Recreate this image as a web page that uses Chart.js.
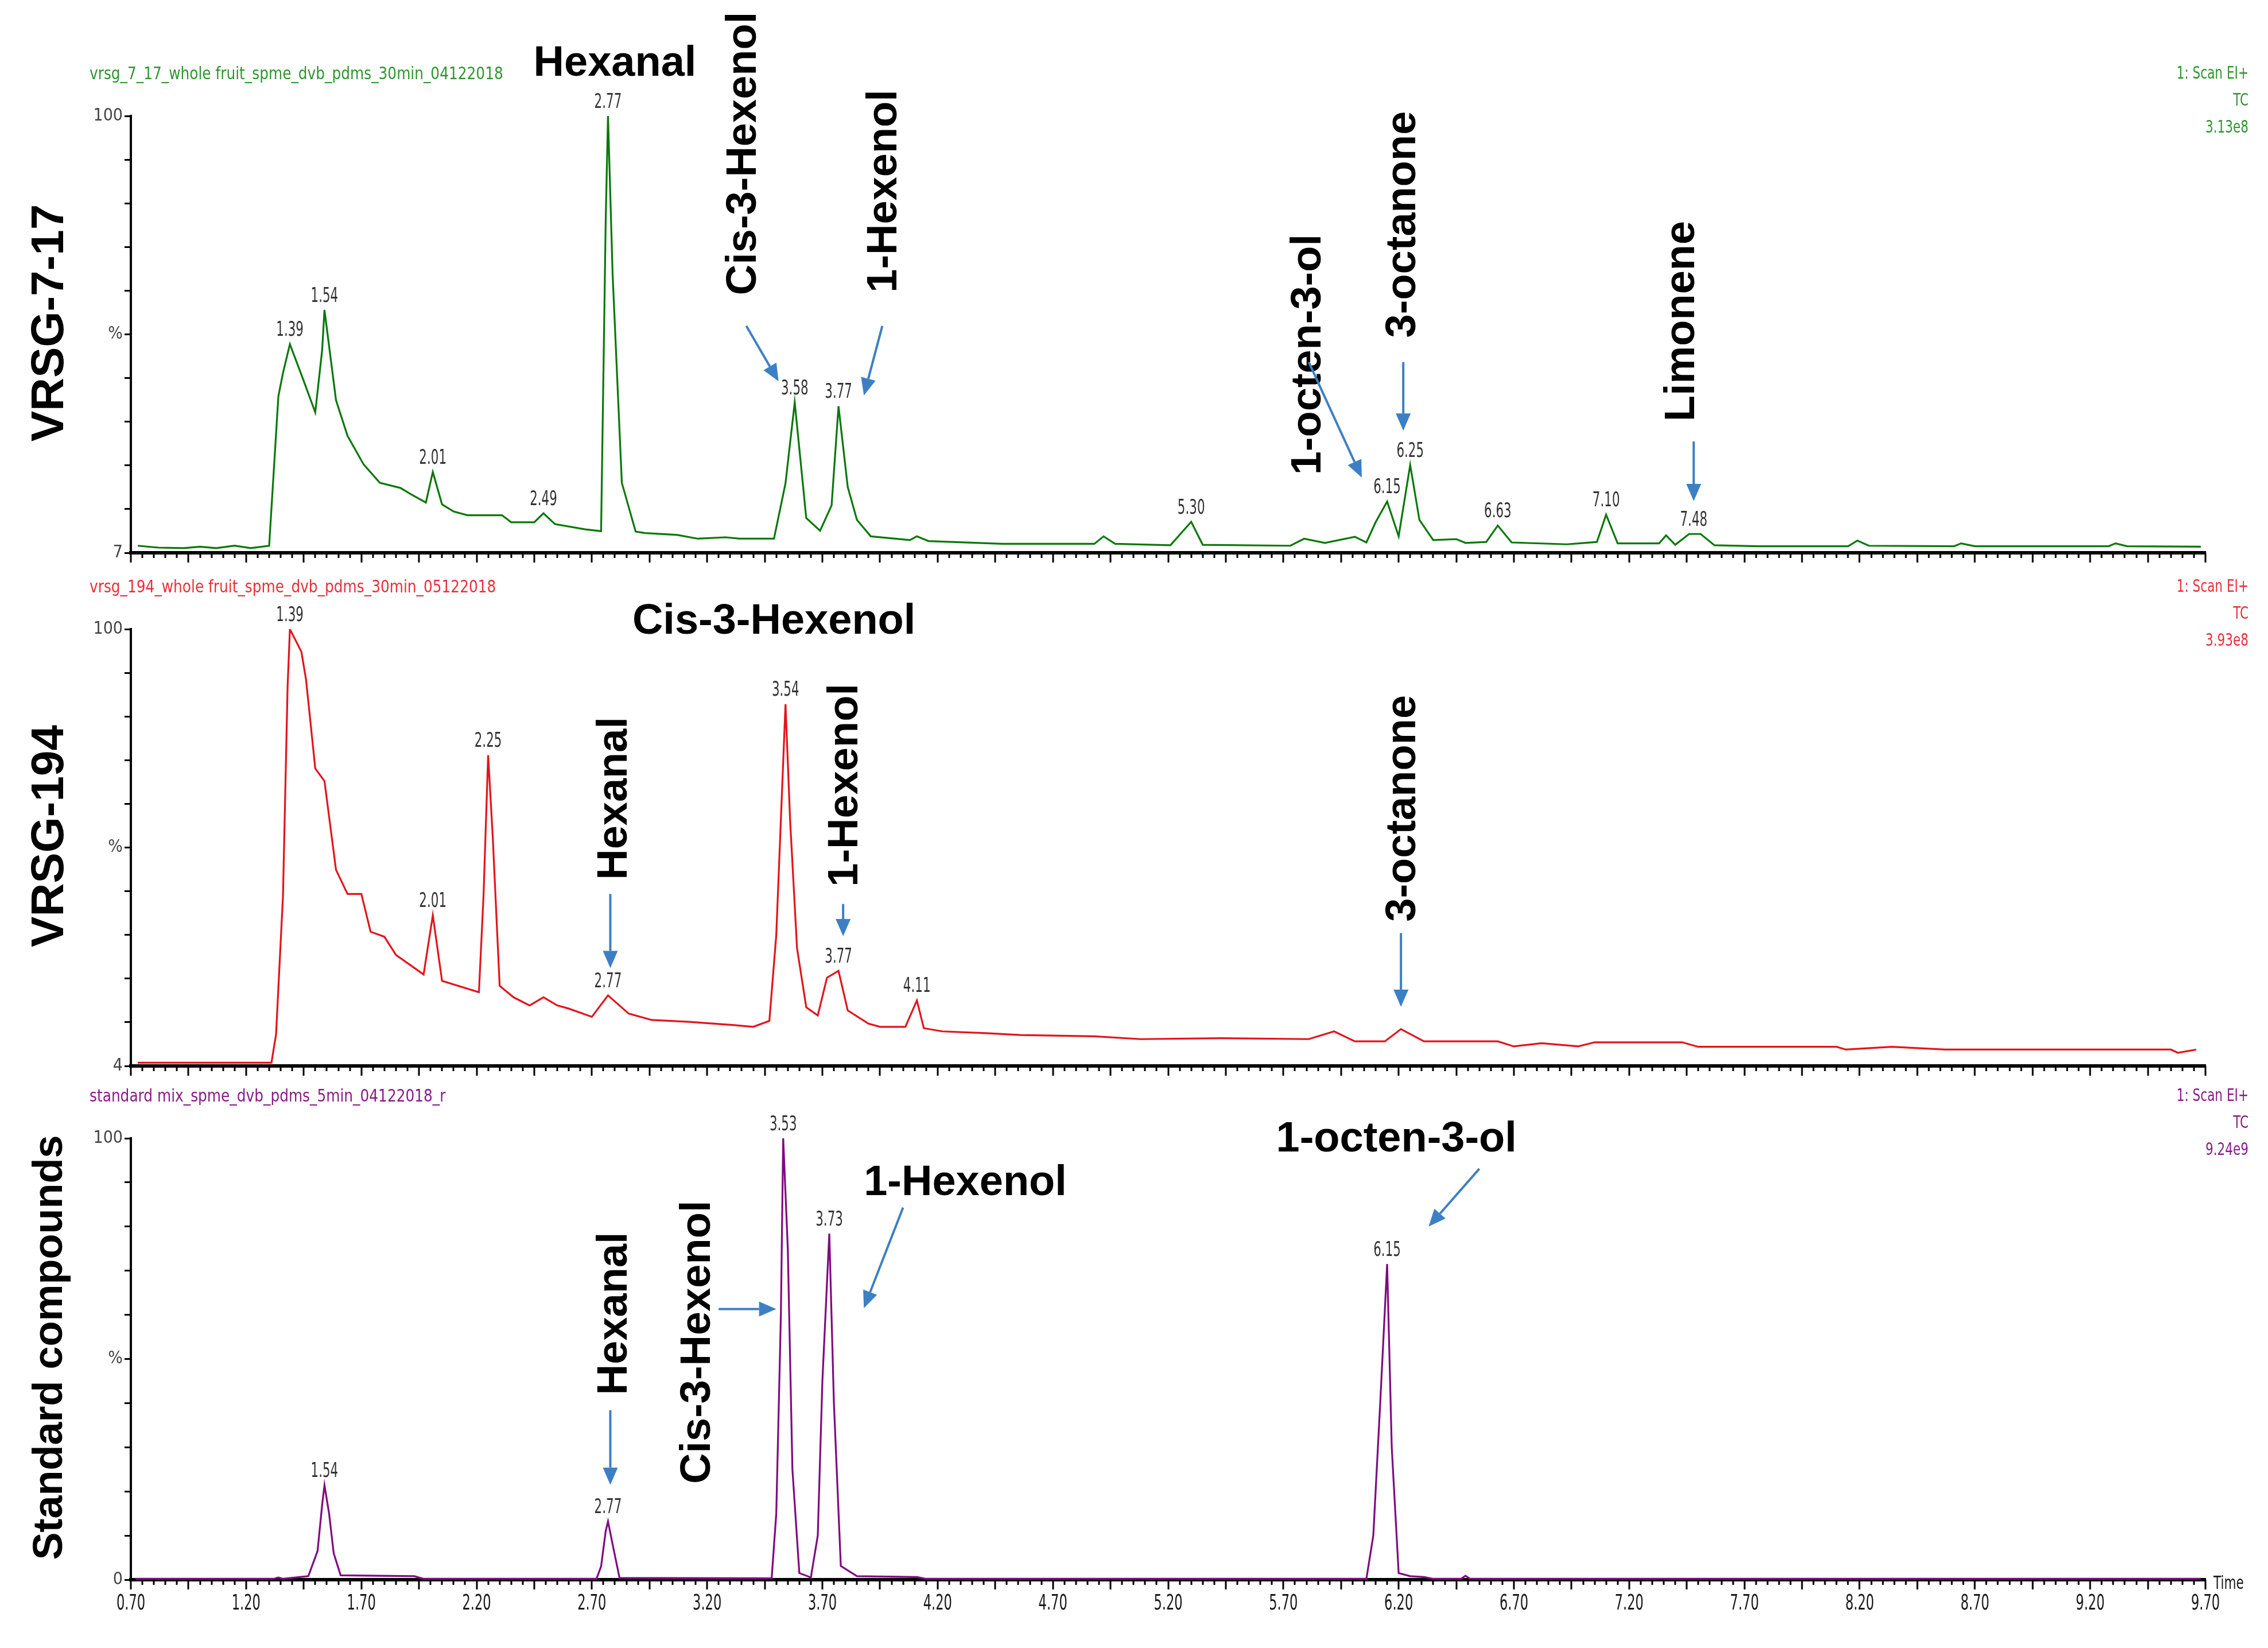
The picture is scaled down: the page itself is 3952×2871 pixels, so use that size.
<!DOCTYPE html>
<html>
<head>
<meta charset="utf-8">
<script src="https://cdn.jsdelivr.net/npm/chart.js@4.4.1/dist/chart.umd.min.js"></script>
<style>
  html, body { margin: 0; padding: 0; background: #fff; }
  #wrap { position: relative; width: 3952px; height: 2871px; overflow: hidden; }
  canvas { position: absolute; left: 0; }
</style>
</head>
<body>
<div id="wrap">
  <canvas id="c1" width="3952" height="1000" style="top:0px"></canvas>
  <canvas id="c2" width="3952" height="900" style="top:1000px"></canvas>
  <canvas id="c3" width="3952" height="1021" style="top:1850px"></canvas>
</div>
<script>
// retention time (min) and relative intensity (%)
const timesA = [0.73, 0.82, 0.93, 1.00, 1.07, 1.15, 1.22, 1.30, 1.34, 1.36, 1.39, 1.44, 1.50, 1.53, 1.54, 1.59, 1.64, 1.71, 1.78, 1.87,
  1.91, 1.98, 2.01, 2.05, 2.10, 2.16, 2.31, 2.35, 2.45, 2.49, 2.54, 2.67, 2.74, 2.76, 2.77, 2.79, 2.83, 2.89, 2.93, 3.07,
  3.16, 3.28, 3.34, 3.49, 3.54, 3.58, 3.63, 3.69, 3.74, 3.77, 3.81, 3.85, 3.91, 4.08, 4.11, 4.16, 4.48, 4.88, 4.92, 4.97,
  5.21, 5.30, 5.35, 5.73, 5.79, 5.88, 6.01, 6.06, 6.10, 6.15, 6.20, 6.25, 6.29, 6.35, 6.45, 6.49, 6.58, 6.63, 6.69, 6.93,
  7.06, 7.10, 7.15, 7.33, 7.36, 7.40, 7.46, 7.51, 7.57, 7.76, 8.15, 8.19, 8.24, 8.61, 8.64, 8.70, 9.28, 9.31, 9.36, 9.68];
const valuesA = [8.5, 8.1, 8.0, 8.3, 8.0, 8.5, 8.0, 8.5, 40.3, 45.3, 51.4, 44.9, 36.9, 50.2, 58.7, 39.5, 31.9, 25.8, 21.9, 20.8,
  19.6, 17.7, 24.2, 17.3, 15.8, 15.0, 15.0, 13.5, 13.5, 15.4, 13.1, 12.0, 11.6, 77.8, 100, 66.3, 21.9, 11.5, 11.2, 10.8,
  10.0, 10.3, 10.0, 10.0, 21.8, 39.0, 14.4, 11.7, 17.1, 38.2, 21.0, 14.0, 10.5, 9.7, 10.5, 9.5, 8.9, 8.9, 10.5, 8.9,
  8.6, 13.6, 8.7, 8.5, 10.0, 9.1, 10.4, 9.2, 13.5, 17.9, 10.5, 25.7, 14.0, 9.7, 9.9, 9.1, 9.3, 12.8, 9.2, 8.8,
  9.3, 15.1, 9.0, 9.0, 10.7, 8.7, 11.0, 11.0, 8.6, 8.4, 8.4, 9.6, 8.5, 8.4, 9.0, 8.4, 8.4, 9.0, 8.4, 8.3];

const timesB = [0.73, 1.00, 1.31, 1.33, 1.36, 1.38, 1.39, 1.44, 1.46, 1.50, 1.54, 1.59, 1.64, 1.70, 1.74, 1.80, 1.85, 1.97, 2.01, 2.05,
  2.21, 2.23, 2.25, 2.27, 2.30, 2.36, 2.43, 2.49, 2.55, 2.60, 2.70, 2.77, 2.86, 2.96, 3.12, 3.31, 3.40, 3.47, 3.50, 3.54,
  3.56, 3.59, 3.63, 3.68, 3.72, 3.77, 3.81, 3.90, 3.95, 4.06, 4.11, 4.14, 4.22, 4.41, 4.56, 4.88, 5.08, 5.43, 5.81, 5.92,
  6.01, 6.14, 6.21, 6.31, 6.63, 6.70, 6.82, 6.98, 7.05, 7.43, 7.50, 8.10, 8.14, 8.34, 8.57, 9.55, 9.58, 9.66];
const valuesB = [4.7, 4.7, 4.7, 11.0, 41.4, 87.4, 100, 95.0, 88.9, 69.4, 66.6, 47.1, 41.8, 41.8, 33.5, 32.4, 28.4, 24.1, 37.1, 22.7,
  20.2, 41.4, 72.3, 54.3, 21.6, 19.1, 17.3, 19.1, 17.3, 16.6, 14.8, 19.5, 15.5, 14.1, 13.7, 13.0, 12.6, 13.9, 32.8, 83.5,
  58.0, 29.9, 16.9, 15.1, 23.4, 24.9, 16.2, 13.3, 12.6, 12.6, 18.4, 12.3, 11.6, 11.2, 10.8, 10.5, 9.9, 10.1, 9.9, 11.6,
  9.4, 9.4, 12.1, 9.4, 9.4, 8.3, 9.0, 8.3, 9.2, 9.2, 8.2, 8.2, 7.6, 8.2, 7.6, 7.6, 6.9, 7.6];

const timesC = [0.72, 1.32, 1.34, 1.36, 1.47, 1.51, 1.53, 1.54, 1.56, 1.58, 1.61, 1.93, 1.97, 2.72, 2.74, 2.76, 2.77, 2.79, 2.82, 3.48,
  3.50, 3.52, 3.53, 3.55, 3.57, 3.60, 3.65, 3.68, 3.70, 3.73, 3.75, 3.78, 3.85, 4.11, 4.15, 6.06, 6.09, 6.12, 6.15, 6.17,
  6.20, 6.25, 6.31, 6.35, 6.47, 6.49, 6.51, 9.68];
const valuesC = [0.2, 0.2, 0.5, 0.2, 0.8, 6.5, 17.0, 21.4, 15.0, 6.0, 1.0, 0.8, 0.2, 0.2, 3.0, 11.0, 13.2, 8.0, 0.4, 0.3,
  15.0, 60.0, 100, 75.0, 25.0, 1.5, 0.5, 10.0, 45.0, 78.4, 40.0, 3.1, 0.8, 0.6, 0.2, 0.2, 10.0, 40.0, 71.5, 30.0,
  1.5, 0.8, 0.6, 0.2, 0.2, 0.9, 0.2, 0.2];

// labelled retention times of the peaks
const peaksA = [1.39, 1.54, 2.01, 2.49, 2.77, 3.58, 3.77, 5.30, 6.15, 6.25, 6.63, 7.10, 7.48];
const peaksB = [1.39, 2.01, 2.25, 2.77, 3.54, 3.77, 4.11];
const peaksC = [1.54, 2.77, 3.53, 3.73, 6.15];

// y axis ranges (MassLynx offset at bottom)
const yMinA = 7, yMinB = 4, yMinC = 0;

const NARROW = '"Liberation Sans Narrow", "DejaVu Sans Condensed", "Arial Narrow", sans-serif';
const BOLD = '"Liberation Sans", Arial, sans-serif';
const ARROW = '#3d7fc4';

Chart.defaults.font.family = NARROW;

// squeeze the small instrument-style text sideways
function narrowText(ctx, text, px, py, sx) {
  ctx.save();
  ctx.translate(px, py);
  ctx.scale(sx, 1);
  ctx.fillText(text, 0, 0);
  ctx.restore();
}

const extras = {
  id: 'extras',
  afterDraw(chart, args, o) {
    const { ctx, chartArea: a, scales: { x, y } } = chart;
    ctx.save();

    // minor / medium ticks under the time axis
    ctx.strokeStyle = '#000';
    ctx.lineWidth = 3;
    for (let k = 0; k <= 180; k++) {
      const px = Math.round(x.getPixelForValue(0.7 + k * 0.05));
      const len = k % 5 === 0 ? 17 : 9;
      ctx.beginPath();
      ctx.moveTo(px, a.bottom);
      ctx.lineTo(px, a.bottom + len);
      ctx.stroke();
    }

    // time labels
    if (o.timeLabel) {
      ctx.fillStyle = '#1a1a1a';
      ctx.font = '38px ' + NARROW;
      ctx.textAlign = 'center';
      ctx.textBaseline = 'middle';
      x.ticks.forEach(tk => narrowText(ctx, tk.value.toFixed(2), x.getPixelForValue(tk.value), a.bottom + 42, 0.66));
      ctx.textAlign = 'left';
      ctx.font = '32px ' + NARROW;
      narrowText(ctx, 'Time', a.right + 14, a.bottom + 8, 0.75);
    }

    // peak retention-time labels
    const pts = chart.data.datasets[0].data;
    ctx.fillStyle = '#333';
    ctx.font = '35px ' + NARROW;
    ctx.textAlign = 'center';
    ctx.textBaseline = 'bottom';
    o.peaks.forEach(t => {
      let top = -Infinity;
      pts.forEach(p => { if (Math.abs(p.x - t) <= 0.031 && p.y > top) top = p.y; });
      narrowText(ctx, t.toFixed(2), x.getPixelForValue(t), y.getPixelForValue(top) - 6, 0.68);
    });

    // headers
    ctx.font = '30px ' + NARROW;
    ctx.textBaseline = 'middle';
    ctx.fillStyle = o.headColor;
    ctx.textAlign = 'left';
    narrowText(ctx, o.title, a.left - 72, a.top - 72, 0.92);
    ctx.textAlign = 'right';
    o.info.forEach((s, i) => narrowText(ctx, s, a.right + 75, a.top - 73 + i * 47, 0.8));

    // sample name at the left
    ctx.fillStyle = '#000';
    ctx.font = 'bold ' + o.rowSize + 'px ' + BOLD;
    ctx.textAlign = 'center';
    ctx.translate(a.left - 140, (a.top + a.bottom) / 2 - 20);
    ctx.rotate(-Math.PI / 2);
    ctx.fillText(o.row, 0, 0);
    ctx.setTransform(1, 0, 0, 1, 0, 0);

    // compound names and arrows
    o.notes.forEach(n => {
      const px = x.getPixelForValue(n.t), py = y.getPixelForValue(n.v);
      ctx.fillStyle = '#000';
      ctx.font = 'bold 74px ' + BOLD;
      ctx.textAlign = 'center';
      ctx.textBaseline = 'middle';
      ctx.save();
      ctx.translate(px, py);
      if (n.rot) ctx.rotate(-Math.PI / 2);
      ctx.fillText(n.text, 0, 0);
      ctx.restore();
      if (n.arrow) {
        const [t1, v1, t2, v2] = n.arrow;
        const x1 = x.getPixelForValue(t1), y1 = y.getPixelForValue(v1);
        const x2 = x.getPixelForValue(t2), y2 = y.getPixelForValue(v2);
        const ang = Math.atan2(y2 - y1, x2 - x1);
        const hl = 30, hw = 13;
        ctx.strokeStyle = ARROW;
        ctx.fillStyle = ARROW;
        ctx.lineWidth = 4;
        ctx.beginPath();
        ctx.moveTo(x1, y1);
        ctx.lineTo(x2 - hl * Math.cos(ang), y2 - hl * Math.sin(ang));
        ctx.stroke();
        ctx.beginPath();
        ctx.moveTo(x2, y2);
        ctx.lineTo(x2 - hl * Math.cos(ang) - hw * Math.sin(ang), y2 - hl * Math.sin(ang) + hw * Math.cos(ang));
        ctx.lineTo(x2 - hl * Math.cos(ang) + hw * Math.sin(ang), y2 - hl * Math.sin(ang) - hw * Math.cos(ang));
        ctx.closePath();
        ctx.fill();
      }
    });
    ctx.restore();
  }
};

function makeChart(id, times, values, color, yMin, padTop, xHeight, cfg) {
  const yMid = yMin + (100 - yMin) / 2;
  return new Chart(document.getElementById(id), {
    type: 'line',
    data: {
      datasets: [{
        data: times.map((t, i) => ({ x: t, y: values[i] })),
        borderColor: color,
        borderWidth: 3.2,
        pointRadius: 0,
        tension: 0,
        fill: false
      }]
    },
    options: {
      responsive: false,
      animation: false,
      devicePixelRatio: 1,
      layout: { padding: { top: padTop, right: 109, left: 0, bottom: 0 } },
      plugins: { legend: { display: false }, tooltip: { enabled: false }, extras: cfg },
      scales: {
        x: {
          type: 'linear',
          min: 0.7,
          max: 9.7,
          afterFit: s => { s.height = xHeight; },
          grid: { display: false },
          border: { display: true, color: '#000', width: 6 },
          ticks: { display: false, stepSize: 0.5, autoSkip: false }
        },
        y: {
          min: yMin,
          max: 100,
          afterFit: s => { s.width = 228; },
          afterBuildTicks: s => {
            s.ticks = [];
            for (let k = 0; k <= 10; k++) s.ticks.push({ value: yMin + k * (100 - yMin) / 10 });
          },
          grid: { display: true, drawOnChartArea: false, drawTicks: true, tickLength: 11, color: '#000', lineWidth: 3 },
          border: { display: true, color: '#000', width: 4 },
          ticks: {
            autoSkip: false,
            padding: 3,
            color: '#444',
            font: { size: 30, family: NARROW },
            callback: v => {
              if (Math.abs(v - 100) < 1e-6) return '100';
              if (Math.abs(v - yMin) < 1e-6) return String(yMin);
              if (Math.abs(v - yMid) < 1e-6) return '%';
              return '';
            }
          }
        }
      }
    },
    plugins: [extras]
  });
}

makeChart('c1', timesA, valuesA, '#0a780a', yMinA, 202, 37, {
  peaks: peaksA,
  headColor: '#2f962f',
  title: 'vrsg_7_17_whole fruit_spme_dvb_pdms_30min_04122018',
  info: ['1: Scan EI+', 'TC', '3.13e8'],
  row: 'VRSG-7-17',
  rowSize: 80,
  notes: [
    { text: 'Hexanal', t: 2.80, v: 111 },
    { text: 'Cis-3-Hexenol', t: 3.36, v: 92, rot: true, arrow: [3.37, 55.3, 3.51, 43.5] },
    { text: '1-Hexenol', t: 3.97, v: 84, rot: true, arrow: [3.96, 55.3, 3.88, 40.5] },
    { text: '1-octen-3-ol', t: 5.81, v: 49.2, rot: true, arrow: [5.81, 47.6, 6.04, 23.0] },
    { text: '3-octanone', t: 6.22, v: 76.9, rot: true, arrow: [6.22, 47.6, 6.22, 33.0] },
    { text: 'Limonene', t: 7.43, v: 56.3, rot: true, arrow: [7.48, 30.7, 7.48, 18.0] }
  ]
});

makeChart('c2', timesB, valuesB, '#e3141c', yMinB, 96, 43, {
  peaks: peaksB,
  headColor: '#e8303a',
  title: 'vrsg_194_whole fruit_spme_dvb_pdms_30min_05122018',
  info: ['1: Scan EI+', 'TC', '3.93e8'],
  row: 'VRSG-194',
  rowSize: 80,
  notes: [
    { text: 'Cis-3-Hexenol', t: 3.49, v: 101.6 },
    { text: 'Hexanal', t: 2.80, v: 62.8, rot: true, arrow: [2.78, 41.8, 2.78, 25.5] },
    { text: '1-Hexenol', t: 3.80, v: 65.7, rot: true, arrow: [3.79, 39.6, 3.79, 32.5] },
    { text: '3-octanone', t: 6.22, v: 60.6, rot: true, arrow: [6.21, 33.2, 6.21, 17.0] }
  ]
});

makeChart('c3', timesC, valuesC, '#800a80', yMinC, 133, 119, {
  peaks: peaksC,
  headColor: '#8a1a8a',
  title: 'standard mix_spme_dvb_pdms_5min_04122018_r',
  info: ['1: Scan EI+', 'TC', '9.24e9'],
  timeLabel: true,
  row: 'Standard compounds',
  rowSize: 72,
  notes: [
    { text: 'Hexanal', t: 2.80, v: 60.3, rot: true, arrow: [2.78, 38.4, 2.78, 21.5] },
    { text: 'Cis-3-Hexenol', t: 3.16, v: 53.8, rot: true, arrow: [3.25, 61.3, 3.50, 61.3] },
    { text: '1-Hexenol', t: 4.32, v: 89.8, arrow: [4.05, 84.3, 3.88, 61.5] },
    { text: '1-octen-3-ol', t: 6.19, v: 99.7, arrow: [6.55, 93.1, 6.33, 80.0] }
  ]
});
</script>
</body>
</html>
